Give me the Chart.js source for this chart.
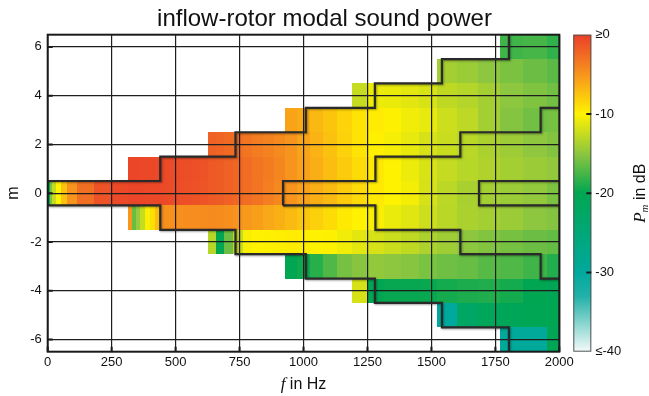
<!DOCTYPE html>
<html>
<head>
<meta charset="utf-8">
<script src="https://cdn.jsdelivr.net/npm/chart.js@4.4.1/dist/chart.umd.min.js"></script>
<style>
  html, body { margin: 0; padding: 0; background: #fff; }
</style>
</head>
<body>
<canvas id="modalChart" width="649" height="396"></canvas>
<script>
// azimuthal mode orders, top row first
const modeOrders = [6, 5, 4, 3, 2, 1, 0, -1, -2, -3, -4, -5, -6];

// frequency bin edges in Hz: coarse low bins (m = 0 only), then 1/14 octave bands
const binEdges = [0, 8, 17, 32, 51, 77, 116, 181, 250,
  312.4, 328.2, 344.9, 362.4, 380.8, 400.1, 420.4, 441.8, 464.2, 487.8,
  512.5, 538.5, 565.9, 594.6, 624.8, 656.5, 689.8, 724.9, 761.7, 800.3,
  840.9, 883.6, 928.4, 975.6, 1025.1, 1077.1, 1131.8, 1189.2, 1249.6, 1313.0,
  1379.7, 1449.7, 1523.3, 1600.6, 1681.8, 1767.2, 1856.9, 1951.2, 2050.2];

// index of the first cut-on bin of each row
const firstBin = [44, 41, 36, 31, 23, 9, 0, 9, 23, 31, 36, 41, 44];

// modal sound power in dB per row (same order as modeOrders)
const levels = [
  [-17.8, -17.5, -18.3],
  [-14, -14.4, -15, -15.6, -16.2, -16.8],
  [-12.5, -10.8, -10.9, -11.2, -11.7, -12.8, -13.3, -14, -15, -15.5, -16],
  [-5.8, -6.2, -6.9, -7.6, -8.4, -9.2, -9.7, -10.1, -10.6, -11, -12.2, -12.9, -14, -15.3, -16, -15.8],
  [-2, -2.2, -2.5, -2.8, -3.2, -3.6, -4, -4.4, -5, -5.8, -6.6, -7.4, -8.3, -9.2, -9.9, -10.4, -11, -11.8,
   -12.4, -13.1, -13.7, -14.3, -14.9, -15.4],
  [-0.4, -0.4, -0.4, -0.5, -0.5, -0.5, -0.6, -0.6, -0.7, -0.7, -0.8, -0.9, -1, -1.2, -1.5, -1.7, -2,
   -2.3, -2.7, -3.2, -3.6, -4.2, -5, -5.7, -6.4, -7.2, -8, -8.8, -9.5, -10, -10.8, -11.7, -12.6, -13.2,
   -13.5, -14, -14.4, -14.8],
  [-20, -15.5, -12.5, -10, -7.5, -5, -2.8, -1.2, -0.6,
   -0.4, -0.4, -0.4, -0.4, -0.5, -0.5, -0.5, -0.6, -0.7, -0.8, -0.9, -1, -1.1, -1.3, -1.5, -1.7, -2,
   -2.3, -2.7, -3.1, -3.7, -4.3, -5, -5.7, -6.4, -7, -7.9, -8.7, -9.5, -10, -10.5, -11.8, -13, -13.8,
   -14, -14.4, -14.8, -15.6],
  [-5.2, -16.3, -14.5, -12.5, -10.2, -9, -7.2, -4.8, -4.8, -4.7, -4.7, -4.6, -4.6, -4.5, -4.4, -4.5, -4.7,
   -5, -5.3, -5.6, -6.1, -6.5, -7, -7.6, -8.2, -8.8, -9.5, -10, -10.3, -10.9, -11.4, -12.2, -13.1, -13.7,
   -14, -14.4, -15, -15.3],
  [-13.2, -20, -16.2, -12.6, -10.3, -10, -9.9, -9.8, -9.7, -9.8, -10, -10.1, -10.6, -11.2, -11.8, -12.3,
   -12.8, -13.6, -14.2, -15, -15.4, -15.8, -16.2, -16.5],
  [-20, -19.5, -18.6, -17.2, -15.8, -15.2, -14.8, -15, -15.2, -15.7, -16.1, -16.3, -16.9, -17.2, -17.8, -18.8],
  [-11.8, -20, -19.8, -19.8, -19.7, -19.3, -19, -18.9, -19.3, -20, -20.2],
  [-30, -22.5, -21, -20.8, -20.3, -20],
  [-29.5, -29.5, -20.5]
];

// outer boundary (upper and lower halves), stepped
const outerF = [0, 440, 734, 1009, 1279, 1541, 1803];
const outerUpperM = [0.5, 1.5, 2.5, 3.5, 4.5, 5.5, 6.5];
const outerLowerM = [-0.5, -1.5, -2.5, -3.5, -4.5, -5.5, -6.5];
// inner boundary
const innerUpperF = [920, 920, 1281, 1613, 1927, 2000];
const innerUpperM = [-0.5, 0.5, 1.5, 2.5, 3.5, 3.5];
const innerLowerF = [920, 1281, 1613, 1927, 2000];
const innerLowerM = [-0.5, -1.5, -2.5, -3.5, -3.5];
// small box around m = 0
const boxF = [2000, 1686, 1686, 2000];
const boxM = [0.5, 0.5, -0.5, -0.5];

// colour map
const cmapLevels = [0, -5, -10, -15, -20, -30, -33, -40];
const cmapColors = ["#EA3F29", "#F7941D", "#FFF200", "#8DC63F", "#00A651", "#00A99D", "#22B1A7", "#F4FAF9"];

function hexToRgb(h) {
  const n = parseInt(h.slice(1), 16);
  return [(n >> 16) & 255, (n >> 8) & 255, n & 255];
}

function levelColor(db) {
  const v = Math.max(-40, Math.min(0, db));
  for (let i = 0; i < cmapLevels.length - 1; i++) {
    const a = cmapLevels[i], b = cmapLevels[i + 1];
    if (v <= a && v >= b) {
      const t = (a - v) / (a - b);
      const ca = hexToRgb(cmapColors[i]), cb = hexToRgb(cmapColors[i + 1]);
      const c = ca.map((x, k) => Math.round(x + (cb[k] - x) * t));
      return "rgb(" + c.join(",") + ")";
    }
  }
  return cmapColors[cmapColors.length - 1];
}

function points(fs, ms) {
  return fs.map((f, i) => ({ x: f, y: ms[i] }));
}

const heatmapPlugin = {
  id: "heatmap",
  beforeDraw(chart) {
    const { ctx, chartArea: a } = chart;
    const x = chart.scales.x, y = chart.scales.y, cb = chart.scales.cb;
    ctx.save();
    ctx.beginPath();
    ctx.rect(a.left, a.top, a.right - a.left, a.bottom - a.top);
    ctx.clip();
    modeOrders.forEach((m, r) => {
      const y0 = Math.round(y.getPixelForValue(m + 0.5));
      const y1 = Math.round(y.getPixelForValue(m - 0.5));
      levels[r].forEach((db, k) => {
        const c = firstBin[r] + k;
        const x0 = Math.round(x.getPixelForValue(binEdges[c]));
        const x1 = Math.round(x.getPixelForValue(binEdges[c + 1]));
        ctx.fillStyle = levelColor(db);
        ctx.fillRect(x0, y0, x1 - x0, y1 - y0);
      });
    });
    ctx.restore();

    // colour bar
    const top = cb.getPixelForValue(0), bot = cb.getPixelForValue(-40);
    const bx = a.right + 14, bw = 18;
    const grad = ctx.createLinearGradient(0, top, 0, bot);
    cmapLevels.forEach((v, i) => grad.addColorStop(v / -40, cmapColors[i]));
    ctx.save();
    ctx.fillStyle = grad;
    ctx.fillRect(bx, top, bw, bot - top);
    ctx.strokeStyle = "#555";
    ctx.lineWidth = 1;
    ctx.strokeRect(bx + 0.5, top + 0.5, bw - 1, bot - top - 1);
    ctx.restore();
  },
  beforeDatasetsDraw(chart) {
    const ctx = chart.ctx;
    ctx.save();
    ctx.shadowColor = "rgba(0,0,0,0.35)";
    ctx.shadowBlur = 2;
    ctx.shadowOffsetX = 1;
    ctx.shadowOffsetY = 1;
  },
  afterDatasetsDraw(chart) {
    chart.ctx.restore();
  },
  afterDraw(chart) {
    const { ctx, chartArea: a } = chart;
    const x = chart.scales.x, y = chart.scales.y, cb = chart.scales.cb;
    ctx.save();
    ctx.strokeStyle = "#1a1a1a";
    ctx.lineWidth = 2;
    ctx.strokeRect(a.left, a.top, a.right - a.left, a.bottom - a.top);
    ctx.beginPath();
    x.ticks.forEach(t => {
      const px = x.getPixelForValue(t.value);
      ctx.moveTo(px, a.bottom);
      ctx.lineTo(px, a.bottom - 5);
    });
    y.ticks.forEach(t => {
      const py = y.getPixelForValue(t.value);
      ctx.moveTo(a.left, py);
      ctx.lineTo(a.left + 5, py);
    });
    // colour bar ticks
    const bx = a.right + 14, bw = 18;
    cb.ticks.forEach(t => {
      if (t.value === 0 || t.value === -40) return;
      const py = cb.getPixelForValue(t.value);
      ctx.moveTo(bx + bw, py);
      ctx.lineTo(bx + bw - 5, py);
    });
    ctx.stroke();

    // x axis title: f in Hz
    ctx.fillStyle = "#111";
    ctx.textBaseline = "alphabetic";
    const italic = "italic 17px 'Liberation Serif', 'DejaVu Serif', serif";
    const plain = "16px 'Liberation Sans', Arial, sans-serif";
    ctx.font = italic;
    const wf = ctx.measureText("f").width;
    ctx.font = plain;
    const wr = ctx.measureText(" in Hz").width;
    let sx = (a.left + a.right) / 2 - (wf + wr) / 2;
    ctx.font = italic;
    ctx.fillText("f", sx, 389);
    ctx.font = plain;
    ctx.fillText(" in Hz", sx + wf, 389);

    // colour bar title: P_m in dB, reading upwards
    ctx.translate(645, (a.top + a.bottom) / 2);
    ctx.rotate(-Math.PI / 2);
    const sub = "italic 11px 'Liberation Serif', 'DejaVu Serif', serif";
    ctx.font = italic;
    const wp = ctx.measureText("P").width;
    ctx.font = sub;
    const wm = ctx.measureText("m").width;
    ctx.font = plain;
    const wd = ctx.measureText(" in dB").width;
    sx = -(wp + wm + wd) / 2;
    ctx.font = italic;
    ctx.fillText("P", sx, 0);
    ctx.font = sub;
    ctx.fillText("m", sx + wp, 3);
    ctx.font = plain;
    ctx.fillText(" in dB", sx + wp + wm, 0);
    ctx.restore();
  }
};

Chart.defaults.font.family = "'Liberation Sans', Arial, sans-serif";
Chart.defaults.color = "#111";

const lineStyle = {
  showLine: true,
  pointRadius: 0,
  borderColor: "#2a2a2a",
  borderWidth: 2.2,
  fill: false
};

new Chart(document.getElementById("modalChart"), {
  type: "scatter",
  data: {
    datasets: [
      Object.assign({ data: points(outerF, outerUpperM), stepped: "before" }, lineStyle),
      Object.assign({ data: points(outerF, outerLowerM), stepped: "before" }, lineStyle),
      Object.assign({ data: points(innerUpperF, innerUpperM), stepped: "before" }, lineStyle),
      Object.assign({ data: points(innerLowerF, innerLowerM), stepped: "before" }, lineStyle),
      Object.assign({ data: points(boxF, boxM) }, lineStyle)
    ]
  },
  options: {
    responsive: false,
    animation: false,
    devicePixelRatio: 1,
    layout: { padding: 0 },
    plugins: {
      legend: { display: false },
      tooltip: { enabled: false },
      title: {
        display: true,
        text: "inflow-rotor modal sound power",
        color: "#111",
        font: { size: 24, weight: "normal", lineHeight: 1 },
        padding: { top: 7, bottom: 3.7 }
      }
    },
    scales: {
      x: {
        type: "linear",
        min: 0,
        max: 2000,
        ticks: {
          stepSize: 250,
          padding: 3,
          autoSkip: false,
          maxRotation: 0,
          font: { size: 13 },
          callback: v => String(v)
        },
        grid: { color: "#1e1e1e", lineWidth: 1.2, drawTicks: false },
        border: { display: false },
        afterFit(s) { s.height = 44.3; }
      },
      y: {
        type: "linear",
        min: -6.5,
        max: 6.5,
        ticks: {
          stepSize: 2,
          includeBounds: false,
          padding: 6,
          font: { size: 13 },
          callback: v => String(v)
        },
        grid: { color: "#1e1e1e", lineWidth: 1.2, drawTicks: false },
        border: { display: false },
        title: {
          display: true,
          text: "m",
          font: { size: 16 },
          padding: { top: 3.5, bottom: 0 }
        },
        afterFit(s) { s.width = 47.7; }
      },
      cb: {
        type: "linear",
        position: "right",
        min: -40,
        max: 0,
        grid: {
          display: true,
          drawOnChartArea: false,
          drawTicks: true,
          tickLength: 32,
          tickColor: "rgba(0,0,0,0)"
        },
        border: { display: false },
        ticks: {
          stepSize: 10,
          padding: 4,
          font: { size: 13 },
          callback: v => (v === 0 ? "≥0" : v === -40 ? "≤-40" : String(v))
        },
        afterFit(s) { s.width = 89.7; }
      }
    }
  },
  plugins: [heatmapPlugin]
});
</script>
</body>
</html>
